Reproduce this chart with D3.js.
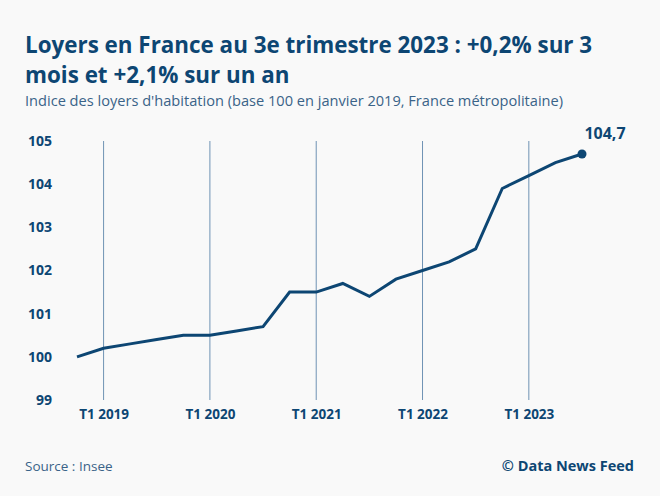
<!DOCTYPE html>
<html>
<head>
<meta charset="utf-8">
<script src="https://cdn.jsdelivr.net/npm/d3@7"></script>
<style>
  body { margin: 0; background: #f9f9f9; }
  svg { display: block; font-family: "Open Sans", Roboto, sans-serif; }
</style>
</head>
<body>
<div id="chart"></div>
<script>
// Quarterly rent index, T4 2018 -> T3 2023
var quarters = ["T4 2018",
  "T1 2019", "T2 2019", "T3 2019", "T4 2019",
  "T1 2020", "T2 2020", "T3 2020", "T4 2020",
  "T1 2021", "T2 2021", "T3 2021", "T4 2021",
  "T1 2022", "T2 2022", "T3 2022", "T4 2022",
  "T1 2023", "T2 2023", "T3 2023"];
var values = [100.0,
  100.2, 100.3, 100.4, 100.5,
  100.5, 100.6, 100.7, 101.5,
  101.5, 101.7, 101.4, 101.8,
  102.0, 102.2, 102.5, 103.9,
  104.2, 104.5, 104.7];
var xTicks = ["T1 2019", "T1 2020", "T1 2021", "T1 2022", "T1 2023"];
var yTicks = [99, 100, 101, 102, 103, 104, 105];

var svgWidth = 660;
var svgHeight = 496;
var dark = "#0d4673";
var font = "'Open Sans', Roboto, sans-serif";

var svg = d3.select("#chart")
  .append("svg")
  .attr("width", svgWidth)
  .attr("height", svgHeight);

svg.append("rect")
  .attr("width", svgWidth)
  .attr("height", svgHeight)
  .attr("fill", "#f9f9f9");

// Titles
svg.append("text")
  .attr("x", 25).attr("y", 53)
  .attr("font-size", "22.4px").attr("font-weight", "bold")
  .attr("fill", dark)
  .text("Loyers en France au 3e trimestre 2023 : +0,2% sur 3");
svg.append("text")
  .attr("x", 25).attr("y", 83)
  .attr("font-size", "22.4px").attr("font-weight", "bold")
  .attr("fill", dark)
  .text("mois et +2,1% sur un an");
svg.append("text")
  .attr("x", 25).attr("y", 106)
  .attr("font-size", "14.6px")
  .attr("fill", "#3a6388")
  .text("Indice des loyers d'habitation (base 100 en janvier 2019, France métropolitaine)");

// Scales
var x = d3.scalePoint()
  .domain(quarters)
  .range([77, 582]);

var y = d3.scaleLinear()
  .domain([99, 105])
  .range([400, 141]);

// vertical grid at each T1
svg.append("g")
  .selectAll("line")
  .data(xTicks)
  .enter()
  .append("line")
  .attr("x1", d => x(d)).attr("x2", d => x(d))
  .attr("y1", y(105)).attr("y2", y(99))
  .attr("stroke", "#6f93b4")
  .attr("stroke-width", 1);

// y axis labels
var yAxis = d3.axisLeft(y).tickValues(yTicks).tickFormat(d3.format("d")).tickSize(0).tickPadding(0);
var yg = svg.append("g")
  .attr("transform", "translate(52, 0)")
  .call(yAxis);
yg.select(".domain").remove();
yg.selectAll("text")
  .attr("font-family", font)
  .attr("font-size", "14px")
  .attr("font-weight", "bold")
  .attr("fill", dark);

// x axis labels
var xAxis = d3.axisBottom(x).tickValues(xTicks).tickSize(0).tickPadding(0);
var xg = svg.append("g")
  .attr("transform", "translate(0, 409)")
  .call(xAxis);
xg.select(".domain").remove();
xg.selectAll("text")
  .attr("font-family", font)
  .attr("font-size", "13.5px")
  .attr("font-weight", "bold")
  .attr("fill", dark);

// line
var drawLine = d3.line()
  .x((d, i) => x(quarters[i]))
  .y(d => y(d));

svg.append("path")
  .attr("d", drawLine(values))
  .attr("fill", "none")
  .attr("stroke", dark)
  .attr("stroke-width", 3);

// last point
var lastQ = quarters[quarters.length - 1];
var lastV = values[values.length - 1];
svg.append("circle")
  .attr("cx", x(lastQ))
  .attr("cy", y(lastV))
  .attr("r", 4.5)
  .attr("fill", dark);

svg.append("text")
  .attr("x", x(lastQ) + 23)
  .attr("y", y(lastV) - 15)
  .attr("text-anchor", "middle")
  .attr("font-size", "16px")
  .attr("font-weight", "bold")
  .attr("fill", dark)
  .text(String(lastV).replace(".", ","));

// footer
svg.append("text")
  .attr("x", 25).attr("y", 471)
  .attr("font-size", "13.5px")
  .attr("fill", "#3a6388")
  .text("Source : Insee");
svg.append("text")
  .attr("x", 634).attr("y", 471)
  .attr("text-anchor", "end")
  .attr("font-size", "14.5px")
  .attr("font-weight", "bold")
  .attr("fill", dark)
  .text("© Data News Feed");
</script>
</body>
</html>
